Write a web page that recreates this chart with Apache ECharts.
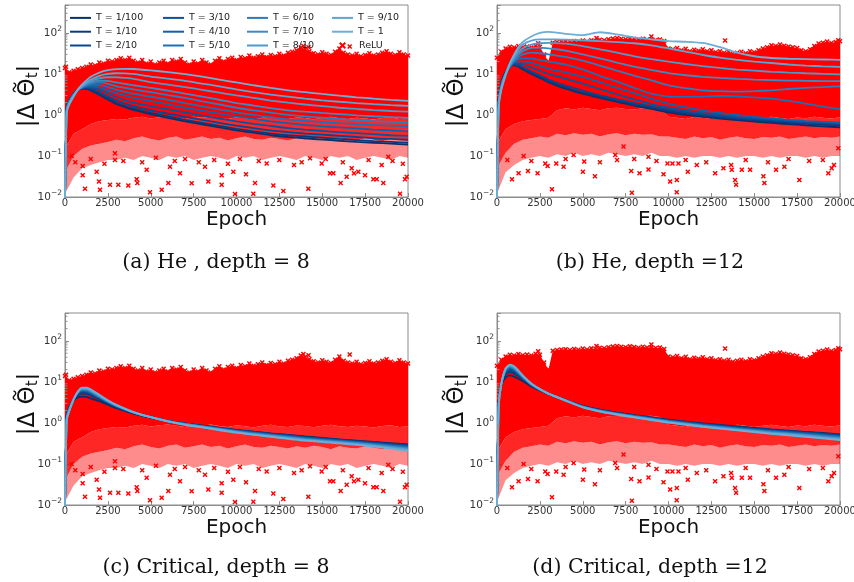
<!DOCTYPE html>
<html><head><meta charset="utf-8">
<script src="https://cdn.jsdelivr.net/npm/echarts@6/dist/echarts.min.js"></script>
<style>html,body{margin:0;padding:0;background:#fff}#c{width:854px;height:582px}</style>
</head><body><div id="c"></div>
<script>
// ---------------- DATA ----------------
const tNames = ['T = 1/100','T = 1/10','T = 2/10','T = 3/10','T = 4/10','T = 5/10','T = 6/10','T = 7/10','T = 8/10','T = 9/10','T = 1'];
const tColors = ['#08306b','#083b7c','#08468d','#0b529d','#1460a8','#1f6eb3','#2d7cbb','#3d8ac3','#4e98ca','#5ea4d0','#6daed6'];
const xTicks = [0,2500,5000,7500,10000,12500,15000,17500,20000];
const yMinorTicks = [0.02,0.03,0.04,0.05,0.06,0.07,0.08,0.09,0.2,0.3,0.4,0.5,0.6,0.7,0.8,0.9,2,3,4,5,6,7,8,9,20,30,40,50,60,70,80,90,200,300,400];

// epochs for the He curves (panels a, b)
const heEpochs = [0,100,250,500,750,1000,1250,1500,2000,2500,3000,3500,4000,5000,6000,7000,8000,9000,10000,11000,12000,13000,14000,15000,16000,17000,18000,19000,20000];
// epochs for the Critical curves (panels c, d)
const critEpochs = [0,100,250,500,750,1000,1250,1500,2000,2500,3000,4000,5000,6000,7000,8000,10000,12000,14000,16000,18000,20000];

// (a) He, depth = 8 : one row per T (1/100 ... 1)
const he8 = [
 [0.009,1.5,2.3,3.3,4.1,4.4,4.3,4.0,3.1,2.4,1.85,1.55,1.33,1.05,0.85,0.7,0.59,0.5,0.42,0.37,0.32,0.29,0.27,0.25,0.235,0.22,0.21,0.2,0.19],
 [0.009,1.5,2.3,3.3,4.1,4.5,4.4,4.1,3.2,2.5,1.95,1.65,1.42,1.12,0.92,0.76,0.64,0.54,0.46,0.4,0.35,0.32,0.3,0.28,0.26,0.245,0.23,0.22,0.21],
 [0.009,1.5,2.3,3.3,4.1,4.5,4.6,4.4,3.6,2.8,2.2,1.88,1.62,1.3,1.08,0.9,0.76,0.64,0.55,0.48,0.42,0.38,0.35,0.33,0.31,0.29,0.27,0.26,0.25],
 [0.009,1.45,2.25,3.3,4.1,4.6,4.8,4.7,4.2,3.4,2.7,2.3,2.0,1.65,1.38,1.15,0.97,0.82,0.7,0.61,0.54,0.48,0.44,0.41,0.38,0.36,0.34,0.32,0.31],
 [0.009,1.4,2.2,3.2,4.1,4.6,4.9,5.0,4.7,4.0,3.4,2.95,2.6,2.2,1.82,1.5,1.27,1.08,0.92,0.8,0.7,0.63,0.57,0.53,0.5,0.47,0.44,0.42,0.4],
 [0.009,1.4,2.2,3.2,4.1,4.7,5.1,5.4,5.4,4.8,4.1,3.65,3.25,2.8,2.35,1.95,1.63,1.37,1.15,1.0,0.88,0.78,0.72,0.67,0.63,0.6,0.57,0.55,0.53],
 [0.009,1.35,2.1,3.1,4.1,4.8,5.4,5.8,6.2,5.7,5.0,4.6,4.2,3.6,3.05,2.6,2.15,1.8,1.5,1.3,1.14,1.0,0.92,0.86,0.8,0.75,0.71,0.68,0.65],
 [0.009,1.3,2.0,3.0,4.1,4.9,5.6,6.2,6.9,6.8,6.2,5.75,5.3,4.6,3.9,3.3,2.8,2.35,1.95,1.7,1.47,1.3,1.2,1.12,1.05,0.98,0.93,0.89,0.85],
 [0.009,1.25,1.95,3.0,4.1,5.0,5.9,6.7,7.8,8.3,8.3,8.0,7.6,6.3,5.5,4.8,4.1,3.5,3.0,2.6,2.25,2.0,1.8,1.64,1.5,1.4,1.32,1.25,1.2],
 [0.009,1.2,1.9,2.9,4.1,5.2,6.3,7.3,9.0,10.0,10.4,10.3,10.0,8.6,7.7,6.8,5.8,5.0,4.2,3.6,3.15,2.8,2.5,2.28,2.1,1.95,1.83,1.74,1.66],
 [0.009,1.1,1.8,2.8,4.2,5.6,7.0,8.5,10.8,12.4,13.1,13.3,13.2,12.2,11.1,9.9,8.6,7.3,6.2,5.3,4.6,4.0,3.6,3.25,2.95,2.7,2.5,2.33,2.2]
];
// (b) He, depth = 12
const he12 = [
 [0.009,2.5,6,11,15,16.5,15,13,10,8,6.3,5.2,4.4,3.3,2.6,2.1,1.7,1.4,1.15,1.0,0.9,0.82,0.75,0.69,0.64,0.6,0.56,0.53,0.5],
 [0.009,2.5,6,11,15,17,15.5,13.5,10.5,8.4,6.6,5.5,4.7,3.5,2.75,2.2,1.8,1.5,1.25,1.08,0.96,0.87,0.8,0.74,0.69,0.65,0.61,0.58,0.55],
 [0.009,2.4,5.8,11,15,17.5,16.5,14.5,11.5,9.2,7.3,6.1,5.2,3.9,3.0,2.4,1.95,1.62,1.35,1.16,1.03,0.93,0.85,0.79,0.74,0.7,0.66,0.63,0.6],
 [0.009,2.3,5.6,10.5,15,18,18,17,14.5,12,10,8.8,7.7,5.8,4.3,3.2,2.4,1.85,1.5,1.28,1.12,1.0,0.9,0.83,0.77,0.72,0.68,0.65,0.62],
 [0.009,2.2,5.4,10,15,19,20,20,18.5,16,13.5,12,11,8.5,6.3,4.6,3.4,2.5,1.9,1.55,1.3,1.12,1.0,0.9,0.82,0.76,0.71,0.68,0.65],
 [0.009,2.1,5.2,10,15,20,23,24,24,22,20,18.5,17,13,9,6.5,4.6,3.3,2.8,2.75,2.8,2.9,2.85,2.7,2.5,2.2,1.9,1.6,1.38],
 [0.009,2.0,5,10,15,21,26,30,33,32,30,28,26,21,16,12,9,7,5.3,4.5,4.0,3.8,3.7,3.8,4.0,4.3,4.6,4.8,5.0],
 [0.009,1.9,4.8,10,16,23,30,36,43,44,42,40,37,30,24,19,15,12.5,10.5,9.3,8.5,8.0,7.6,7.3,7.1,6.9,6.8,6.7,6.7],
 [0.009,1.8,4.6,10,17,25,34,42,52,56,57,56,55,48,40,33,27,23,20,17.5,15.5,14,12.8,12,11.3,10.8,10.4,10.1,9.8],
 [0.009,1.7,4.4,10,18,28,40,52,65,70,70,70,69,66,63,60,56,50,42,35,29,25,22,20,18.5,17,16,15.3,14.8],
 [0.009,1.5,4,9,18,30,45,60,82,100,106,102,95,88,104,92,78,70,63,61,57,45,33,27,24.5,23.5,23,22.5,22]
];
// (c) Critical, depth = 8
const crit8 = [
 [0.009,1.6,2.5,3.5,4.2,4.4,4.3,4.0,3.4,2.8,2.3,1.7,1.35,1.12,0.97,0.86,0.68,0.56,0.47,0.4,0.345,0.3],
 [0.009,1.5,2.4,3.6,4.7,5.2,5.1,4.7,3.8,3.0,2.45,1.75,1.37,1.13,0.97,0.86,0.67,0.55,0.46,0.39,0.337,0.29],
 [0.009,1.45,2.35,3.7,5.0,5.6,5.5,5.0,4.0,3.1,2.5,1.77,1.37,1.12,0.96,0.85,0.66,0.54,0.45,0.382,0.33,0.281],
 [0.009,1.4,2.3,3.75,5.2,5.9,5.8,5.3,4.1,3.2,2.55,1.78,1.38,1.12,0.96,0.84,0.65,0.53,0.44,0.374,0.322,0.272],
 [0.009,1.35,2.25,3.8,5.35,6.1,6.0,5.45,4.2,3.25,2.58,1.79,1.38,1.12,0.95,0.83,0.64,0.52,0.43,0.366,0.314,0.263],
 [0.009,1.3,2.2,3.8,5.5,6.3,6.2,5.6,4.3,3.3,2.6,1.8,1.38,1.12,0.95,0.83,0.63,0.51,0.42,0.358,0.306,0.254],
 [0.009,1.28,2.15,3.8,5.6,6.5,6.4,5.8,4.4,3.35,2.63,1.8,1.38,1.11,0.94,0.82,0.62,0.5,0.41,0.35,0.298,0.245],
 [0.009,1.25,2.1,3.8,5.7,6.7,6.6,6.0,4.5,3.4,2.66,1.81,1.38,1.11,0.93,0.81,0.61,0.49,0.4,0.342,0.29,0.236],
 [0.009,1.22,2.05,3.75,5.75,6.9,6.8,6.2,4.6,3.45,2.7,1.82,1.38,1.1,0.92,0.8,0.6,0.48,0.39,0.334,0.282,0.227],
 [0.009,1.2,2.0,3.7,5.8,7.1,7.0,6.4,4.75,3.5,2.73,1.83,1.38,1.1,0.91,0.79,0.59,0.47,0.38,0.326,0.274,0.218],
 [0.009,1.18,1.95,3.65,5.85,7.3,7.25,6.6,4.9,3.58,2.77,1.84,1.38,1.09,0.9,0.78,0.58,0.46,0.37,0.318,0.266,0.209]
];
// (d) Critical, depth = 12
const crit12 = [
 [0.009,3.5,8.5,13,14.5,13.5,12,10.5,7.8,6.2,5.1,3.6,2.6,2.1,1.78,1.55,1.2,0.98,0.82,0.7,0.61,0.53],
 [0.009,3.4,8.7,15,17.5,16,14,11.8,8.2,6.4,5.15,3.6,2.58,2.08,1.76,1.53,1.18,0.96,0.8,0.68,0.595,0.515],
 [0.009,3.3,8.8,16.5,19.5,17.8,15,12.3,8.4,6.45,5.2,3.6,2.56,2.06,1.74,1.51,1.16,0.94,0.78,0.665,0.58,0.5],
 [0.009,3.2,8.9,17.5,21,19,15.8,12.7,8.5,6.5,5.2,3.6,2.54,2.04,1.72,1.49,1.14,0.92,0.765,0.65,0.565,0.485],
 [0.009,3.1,9,18.3,22,20,16.2,12.9,8.6,6.5,5.2,3.6,2.52,2.02,1.71,1.48,1.13,0.9,0.75,0.635,0.55,0.47],
 [0.009,3.0,9,19,23,20.5,16.5,13,8.7,6.5,5.2,3.6,2.5,2.0,1.7,1.47,1.12,0.88,0.735,0.62,0.535,0.455],
 [0.009,2.9,9,19.6,23.8,21.2,17,13.3,8.8,6.55,5.2,3.58,2.48,1.98,1.68,1.45,1.1,0.865,0.72,0.605,0.52,0.44],
 [0.009,2.8,9,20.2,24.5,22,17.5,13.6,8.9,6.6,5.2,3.56,2.46,1.96,1.66,1.43,1.08,0.85,0.705,0.59,0.505,0.425],
 [0.009,2.7,8.9,20.6,25.2,22.8,18,13.9,9.0,6.65,5.2,3.54,2.44,1.94,1.64,1.41,1.06,0.835,0.69,0.575,0.49,0.41],
 [0.009,2.6,8.8,21,25.8,23.5,18.5,14.2,9.1,6.7,5.2,3.52,2.42,1.92,1.62,1.39,1.04,0.82,0.675,0.56,0.475,0.395],
 [0.009,2.5,8.7,21.4,26.4,24.2,19,14.5,9.2,6.75,5.2,3.5,2.4,1.9,1.6,1.37,1.02,0.805,0.66,0.545,0.46,0.38]
];

// ReLU cloud: upper edge (every 250 epochs), lower edges of the dense / speckled zones (every 500 epochs)
const reluUpperEpochs = [0,250,500,750,1000,1250,1500,1750,2000,2250,2500,2750,3000,3250,3500,3750,4000,4250,4500,4750,5000,5250,5500,5750,6000,6250,6500,6750,7000,7250,7500,7750,8000,8250,8500,8750,9000,9250,9500,9750,10000,10250,10500,10750,11000,11250,11500,11750,12000,12250,12500,12750,13000,13250,13500,13750,14000,14250,14500,14750,15000,15250,15500,15750,16000,16250,16500,16750,17000,17250,17500,17750,18000,18250,18500,18750,19000,19250,19500,19750,20000];
const reluLowerEpochs = [0,500,1000,1500,2000,2500,3000,3500,4000,4500,5000,5500,6000,6500,7000,7500,8000,8500,9000,9500,10000,10500,11000,11500,12000,12500,13000,13500,14000,14500,15000,15500,16000,16500,17000,17500,18000,18500,19000,19500,20000];

const relu8Upper = [14,11,12,13,14,15,17,16,19,18,21,20,22,24,22,25,21,19,22,18,20,17,19,21,18,22,20,23,19,17,20,18,22,19,17,21,24,20,23,25,22,26,24,28,25,27,30,26,29,27,31,28,33,35,38,44,40,36,32,30,34,31,29,35,42,33,30,28,31,27,29,32,28,30,33,36,31,29,34,30,28];
const relu8Mid  = [0.15,0.35,0.45,0.6,0.7,0.75,0.8,0.78,0.85,0.9,0.82,0.88,0.92,0.85,0.8,0.9,0.86,0.92,0.84,0.8,0.88,0.83,0.78,0.86,0.9,0.82,0.8,0.87,0.84,0.79,0.85,0.9,0.83,0.8,0.86,0.82,0.78,0.84,0.88,0.8,0.82];
const relu8Low1 = [0.04,0.1,0.15,0.18,0.2,0.22,0.25,0.23,0.27,0.3,0.26,0.24,0.28,0.3,0.25,0.27,0.3,0.26,0.28,0.24,0.27,0.3,0.26,0.25,0.28,0.26,0.24,0.27,0.25,0.28,0.26,0.23,0.27,0.25,0.24,0.27,0.25,0.23,0.26,0.24,0.23];
const relu8Low2 = [0.012,0.03,0.05,0.06,0.07,0.08,0.08,0.09,0.08,0.1,0.09,0.08,0.1,0.09,0.1,0.08,0.09,0.1,0.09,0.08,0.1,0.09,0.1,0.08,0.09,0.1,0.09,0.08,0.1,0.09,0.08,0.1,0.09,0.1,0.08,0.09,0.1,0.09,0.08,0.1,0.09];
const relu8Outliers = [[390,0.10],[1030,0.057],[1030,0.034],[1166,0.016],[1846,0.041],[1983,0.024],[2041,0.015],[2624,0.020],[2915,0.116],[2915,0.08],[3110,0.020],[3693,0.019],[4179,0.027],[4218,0.022],[4762,0.046],[4956,0.013],[5636,0.015],[6025,0.022],[6122,0.055],[6705,0.038],[7386,0.0216],[8163,0.055],[8358,0.024],[9135,0.034],[9135,0.020],[9815,0.041],[9912,0.0118],[10554,0.036],[10981,0.012],[11079,0.022],[11759,0.066],[12148,0.019],[12730,0.014],[13353,0.06],[14189,0.016],[14286,0.088],[14966,0.066],[15452,0.038],[15646,0.038],[16074,0.022],[16424,0.031],[16715,0.05],[16851,0.038],[17104,0.041],[17493,0.034],[17979,0.027],[18173,0.027],[18465,0.06],[18562,0.022],[18853,0.096],[19534,0.012],[19825,0.027],[19922,0.031],
 [600,0.07],[1500,0.085],[2300,0.065],[3400,0.075],[4500,0.07],[5300,0.09],[6400,0.075],[7000,0.085],[7800,0.07],[8700,0.08],[9500,0.065],[10200,0.085],[11300,0.075],[12500,0.08],[13800,0.07],[15200,0.085],[16200,0.07],[17700,0.08],[19100,0.075],[19700,0.065],
 [13900,48],[16600,47],[14200,45],[60,15]];

const relu12Upper = [25,35,42,46,44,48,45,47,44,49,46,30,20,58,60,62,63,60,64,61,65,62,66,64,68,66,70,73,75,72,70,74,71,68,72,69,70,67,69,64,42,40,43,38,41,36,39,37,40,36,38,34,36,33,35,31,33,35,32,36,34,38,42,45,50,48,52,49,47,45,43,38,36,40,48,55,58,62,57,60,63];
const relu12Mid  = [0.2,0.45,0.6,0.7,0.75,0.8,0.85,1.3,1.45,1.35,1.5,1.4,1.3,1.45,1.5,1.4,1.35,1.45,1.5,1.4,0.9,0.85,0.8,0.9,0.85,0.8,0.88,0.82,0.9,0.85,0.8,0.86,0.9,0.84,0.8,0.87,0.83,0.9,0.85,0.82,0.88];
const relu12Low1 = [0.05,0.12,0.2,0.25,0.27,0.3,0.28,0.35,0.32,0.36,0.33,0.35,0.3,0.34,0.36,0.32,0.35,0.33,0.34,0.3,0.3,0.28,0.26,0.3,0.27,0.29,0.25,0.28,0.3,0.27,0.26,0.29,0.28,0.3,0.26,0.28,0.3,0.27,0.29,0.28,0.3];
const relu12Low2 = [0.012,0.04,0.06,0.08,0.09,0.1,0.09,0.11,0.1,0.12,0.1,0.11,0.1,0.12,0.11,0.1,0.11,0.1,0.12,0.1,0.1,0.09,0.1,0.09,0.1,0.1,0.09,0.1,0.09,0.1,0.1,0.09,0.1,0.09,0.1,0.1,0.09,0.1,0.09,0.1,0.1];
const relu12Outliers = [[874,0.027],[1258,0.038],[1550,0.10],[1806,0.043],[2365,0.038],[2814,0.066],[2950,0.057],[3205,0.0155],[3455,0.066],[3882,0.055],[4464,0.106],[5008,0.041],[5086,0.073],[5710,0.032],[6892,0.106],[7378,0.17],[7824,0.043],[7863,0.0127],[8310,0.038],[8834,0.096],[8834,0.047],[9708,0.036],[9941,0.066],[10097,0.024],[10232,0.066],[10485,0.026],[10582,0.066],[11126,0.041],[11650,0.06],[12718,0.038],[13203,0.05],[13651,0.06],[13690,0.046],[13883,0.026],[13941,0.02],[14273,0.046],[14757,0.046],[15533,0.032],[15591,0.022],[16272,0.046],[16756,0.055],[17630,0.026],[19320,0.038],[19515,0.05],[19650,0.06],[19903,0.155],[10480,0.013],
 [600,0.08],[2000,0.075],[4000,0.085],[6000,0.07],[7000,0.08],[8000,0.085],[9300,0.075],[11000,0.08],[12200,0.07],[14500,0.08],[15800,0.07],[17000,0.085],[18200,0.075],[19000,0.08],
 [2400,56],[9000,82],[13300,65],[19900,66],[5800,75]];

const captions = ['(a) He , depth = 8','(b) He, depth =12','(c) Critical, depth = 8','(d) Critical, depth =12'];

// ---------------- LAYOUT ----------------
const relu8 = {upper: relu8Upper, mid: relu8Mid, low1: relu8Low1, low2: relu8Low2, outliers: relu8Outliers};
const relu12 = {upper: relu12Upper, mid: relu12Mid, low1: relu12Low1, low2: relu12Low2, outliers: relu12Outliers};
const panels = [
  {left:65,  top:5,   epochs: heEpochs,   lines: he8,    relu: relu8,  cap:[216,263], ylab:[28,96]},
  {left:497, top:5,   epochs: heEpochs,   lines: he12,   relu: relu12, cap:[650,263], ylab:[457,96]},
  {left:65,  top:313, epochs: critEpochs, lines: crit8,  relu: relu8,  cap:[216,568], ylab:[28,404]},
  {left:497, top:313, epochs: critEpochs, lines: crit12, relu: relu12, cap:[650,568], ylab:[457,404]}
];
const W = 343, H = 192;
const FRAME = '#8c8c8c';
const crossPath = 'path://M0,2L2,0L5,3L8,0L10,2L7,5L10,8L8,10L5,7L2,10L0,8L3,5Z';

// measure pieces of the y label to place the tilde over Theta
const mctx = document.createElement('canvas').getContext('2d');
const mw = (t, f) => { mctx.font = f; return mctx.measureText(t).width; };
const YF = 23, YSF = 15, FAM = '"DejaVu Sans"';
const w1 = mw('|\u0394 ', YF + 'px ' + FAM), w2 = mw('\u0398', YF + 'px ' + FAM),
      w3 = mw('t', YSF + 'px ' + FAM), w4 = mw('|', YF + 'px ' + FAM);
const yLabTotal = w1 + w2 + w3 + w4;
function yLabel(cx, cy) {
  const x0 = -yLabTotal / 2;
  const st = (text, x, y, size) => ({type:'text', x:x, y:y,
    style:{text:text, fontSize:size, fontFamily:'DejaVu Sans', fill:'#111', align:'left', verticalAlign:'middle'}});
  const tx = x0 + w1 + w2 / 2, ty = -13.5;
  return {type:'group', x:cx, y:cy, rotation:Math.PI/2, children:[
    st('|\u0394 ', x0, 0, YF),
    st('\u0398', x0 + w1, 0, YF),
    {type:'polyline', shape:{points:[[tx - 4.5, ty + 1], [tx - 2.2, ty - 1.3], [tx + 2.2, ty + 1.3], [tx + 4.5, ty - 1]], smooth:0.5},
     style:{fill:'none', stroke:'#111', lineWidth:1.4}},
    st('t', x0 + w1 + w2, 5, YSF),
    st('|', x0 + w1 + w2 + w3, 0, YF)
  ]};
}

const grids = [], xAxes = [], yAxes = [], series = [], graphics = [];
panels.forEach((p, i) => {
  grids.push({left:p.left, top:p.top, width:W, height:H, show:true, borderColor:FRAME, borderWidth:1,
              containLabel:false, outerBoundsMode:'none'});
  xAxes.push({type:'value', gridIndex:i, min:0, max:20000, interval:2500,
    name:'Epoch', nameLocation:'middle', nameGap:13,
    nameTextStyle:{fontSize:20, fontFamily:'DejaVu Sans', color:'#111'},
    axisLine:{show:true, lineStyle:{color:FRAME}},
    axisTick:{show:true, inside:true, length:4, lineStyle:{color:FRAME}},
    axisLabel:{fontSize:10, fontFamily:'DejaVu Sans', color:'#333', margin:1,
      formatter: v => xTicks.indexOf(v) >= 0 ? String(v) : ''},
    splitLine:{show:false}});
  yAxes.push({type:'log', logBase:10, gridIndex:i, min:0.01, max:480,
    axisLine:{show:true, lineStyle:{color:FRAME}},
    axisTick:{show:true, inside:true, length:4, lineStyle:{color:FRAME}},
    axisLabel:{margin:3,
      formatter: v => { const l = Math.log10(v), e = Math.round(l);
        if (Math.abs(l - e) > 1e-6) return '';
        return '{b|10}{s|' + (e < 0 ? '\u2212' + (-e) : e) + '}'; },
      rich:{b:{fontSize:10.5, fontFamily:'DejaVu Sans', color:'#333'},
            s:{fontSize:7.5, fontFamily:'DejaVu Sans', color:'#333', padding:[0,0,7,0]}}},
    splitLine:{show:false}});

  const r = p.relu;
  series.push({type:'custom', name:'ReLU', xAxisIndex:i, yAxisIndex:i, z:1, silent:true, clip:true,
    itemStyle:{color:'#ff0000'}, data:[[10000,1]], encode:{x:0, y:1},
    renderItem:(params, api) => {
      const pts = (xs, ys) => xs.map((e, k) => api.coord([e, ys[k]]));
      const rev = a => a.slice().reverse();
      const up = pts(reluUpperEpochs, r.upper), mid = pts(reluLowerEpochs, r.mid),
            l1 = pts(reluLowerEpochs, r.low1), l2 = pts(reluLowerEpochs, r.low2);
      return {type:'group', children:[
        {type:'polygon', shape:{points: l1.concat(rev(l2))}, style:{fill:'rgba(255,0,0,0.45)'}},
        {type:'polygon', shape:{points: mid.concat(rev(l1))}, style:{fill:'rgba(255,0,0,0.85)'}},
        {type:'polygon', shape:{points: up.concat(rev(mid))}, style:{fill:'#ff0000'}}
      ]};
    }});
  series.push({type:'scatter', name:'ReLU', xAxisIndex:i, yAxisIndex:i, z:2, silent:true, clip:true,
    symbol:crossPath, symbolSize:5, itemStyle:{color:'#ff0000', opacity:1},
    data: r.outliers.concat(reluUpperEpochs.map((e, k) => [e, r.upper[k]]))});
  p.lines.forEach((arr, j) => {
    series.push({type:'line', name:tNames[j], xAxisIndex:i, yAxisIndex:i, z:3, silent:true, clip:true,
      color:tColors[j], showSymbol:false, symbol:'none', smooth:0.2,
      lineStyle:{width:1.8, color:tColors[j]}, itemStyle:{color:tColors[j]},
      data: p.epochs.map((e, k) => [e, arr[k]])});
  });
  // log minor ticks on the left spine
  series.push({type:'custom', xAxisIndex:i, yAxisIndex:i, z:4, silent:true, clip:false, data:[[0,1]],
    encode:{x:0, y:1},
    renderItem:(params, api) => ({type:'group', children: yMinorTicks.map(v => {
      const c = api.coord([0, v]);
      return {type:'line', shape:{x1:c[0], y1:c[1], x2:c[0] + 2.5, y2:c[1]}, style:{stroke:FRAME, lineWidth:1}};
    })})});

  graphics.push({type:'text', x:p.cap[0], y:p.cap[1],
    style:{text:captions[i], fontSize:20.5, fontFamily:'DejaVu Serif', fill:'#111', align:'center', verticalAlign:'middle'}});
  graphics.push(yLabel(p.ylab[0], p.ylab[1]));
});

const legText = {fontSize:9.5, fontFamily:'DejaVu Sans', color:'#222', lineHeight:13.8};
const legBase = {orient:'vertical', top:11, itemWidth:21, itemHeight:2, icon:'rect', itemGap:0, padding:0,
                 selectedMode:false, textStyle:legText};
const legends = [
  Object.assign({}, legBase, {left:70,  data:tNames.slice(0,3)}),
  Object.assign({}, legBase, {left:163, data:tNames.slice(3,6)}),
  Object.assign({}, legBase, {left:247, data:tNames.slice(6,9)}),
  Object.assign({}, legBase, {left:332, data:tNames.slice(9,11)}),
  {orient:'vertical', left:339, top:38.6, itemWidth:7, itemHeight:7, padding:0, selectedMode:false,
   textStyle:Object.assign({}, legText, {padding:[0,0,0,8]}),
   data:[{name:'ReLU', icon:crossPath, itemStyle:{color:'#ff0000'}}]}
];

const chart = echarts.init(document.getElementById('c'), null, {renderer:'canvas'});
chart.setOption({animation:false, backgroundColor:'#fff', grid:grids, xAxis:xAxes, yAxis:yAxes,
  legend:legends, series:series, graphic:graphics});
</script></body></html>
